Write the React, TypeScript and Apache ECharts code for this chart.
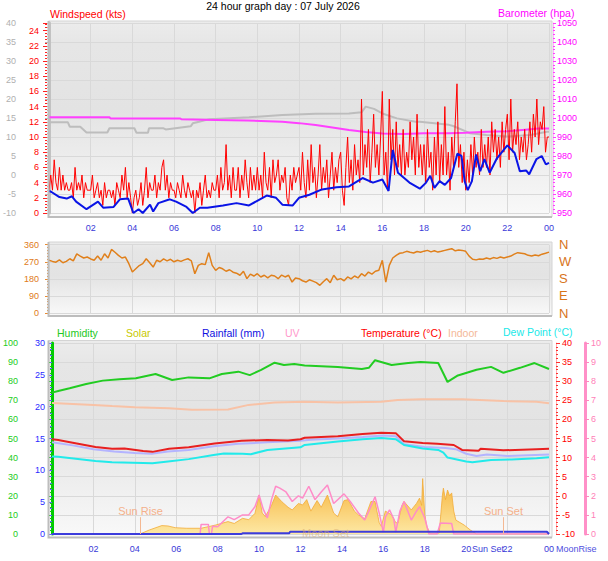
import React, { useEffect, useRef } from "react";
import * as echarts from "echarts";

const TITLE = "24 hour graph day : 07 July 2026";
const FONT = '"Liberation Sans", Arial, sans-serif';

// ---- top panel ----
const windStepHours = 1 / 12;
const windSpeedKts = [
  3, 5, 3, 7, 4, 3, 6, 3, 5, 3, 4, 3,
  3, 4, 2, 6, 3, 4, 3, 5, 2, 4, 3, 3,
  3, 5, 2, 3, 4, 2, 3, 1, 4, 2, 3, 3,
  2, 3, 1, 4, 3, 2, 5, 3, 6, 2, 4, 2,
  0, 2, 3, 1, 2, 4, 1, 3, 6, 2, 4, 3,
  3, 5, 2, 4, 3, 6, 7, 3, 5, 2, 4, 3,
  3, 2, 4, 3, 2, 5, 3, 2, 4, 3, 2, 3,
  0, 3, 2, 4, 1, 3, 5, 2, 3, 2, 4, 3,
  3, 5, 2, 6, 3, 4, 9, 3, 5, 2, 6, 3,
  3, 6, 2, 5, 3, 7, 4, 2, 6, 3, 5, 3,
  6, 3, 5, 2, 8, 4, 3, 6, 2, 7, 4, 5,
  7, 3, 5, 4, 6, 2, 1, 5, 3, 6, 4, 5,
  6, 3, 8, 4, 2, 7, 3, 9, 4, 6, 2, 5,
  9, 3, 6, 4, 7, 2, 5, 8, 3, 6, 4, 7,
  8, 3, 1, 6, 10, 4, 7, 3, 9, 5, 7, 4,
  15, 5, 9, 6, 11, 4, 8, 13, 6, 9, 5, 10,
  16, 5, 8, 3, 15, 7, 11, 5, 12, 6, 9, 5,
  11, 5, 8, 6, 12, 7, 10, 5, 13, 6, 9, 5,
  9, 4, 11, 6, 8, 3, 10, 5, 12, 4, 9, 5,
  14, 5, 8, 3, 10, 6, 12, 17, 6, 9, 4, 8,
  3, 7, 4, 9, 5, 10, 6, 8, 5, 11, 6, 9,
  6, 10, 5, 12, 8, 11, 7, 10, 6, 12, 8, 11,
  13, 7, 15, 8, 11, 9, 12, 7, 10, 8, 11, 7,
  9, 12, 8, 13, 10, 15, 9, 12, 11, 14, 8, 10,
  10,
];

const windAvgKts: [number, number][] = [
  [0, 2.9], [0.1, 2.8], [0.5, 2.1], [0.85, 1.9], [1.1, 2.2], [1.3, 1.5], [1.8, 0.5], [2.35, 1.5],
  [2.6, 0.7], [3.1, 0.8], [3.4, 1.8], [3.8, 1.9], [4.05, 0], [4.3, 0.5], [4.5, 0], [4.85, 1.1],
  [5.0, 0.2], [5.25, 1.3], [5.8, 1.8], [6.1, 1.5], [6.6, 0.8], [6.9, 0], [7.24, 0.7], [7.6, 0.7],
  [8.35, 1.0], [9.0, 1.3], [9.6, 1.0], [10.45, 2.3], [10.9, 2.0], [11.2, 1.1], [11.7, 1.0],
  [12.0, 2.0], [12.5, 2.4], [13.1, 3.1], [13.8, 3.4], [14.4, 3.5], [15.05, 4.6], [15.55, 4.0],
  [16.0, 4.4], [16.3, 2.9], [16.5, 8.3], [16.75, 5.3], [17.3, 4.0], [17.8, 3.2], [18.1, 4.0],
  [18.3, 4.9], [18.5, 3.3], [18.75, 4.2], [19.0, 3.7], [19.3, 4.6], [19.6, 7.8], [19.8, 7.5],
  [19.95, 4.2], [20.1, 3.0], [20.3, 4.2], [20.5, 7.7], [20.7, 5.5], [20.9, 7.1], [21.15, 5.3],
  [21.5, 7.2], [22.0, 8.9], [22.35, 7.9], [22.6, 5.5], [22.9, 5.6], [23.05, 5.1], [23.4, 7.1],
  [23.65, 7.5], [23.85, 6.4], [24, 6.6],
];

const barometerHpa: [number, number][] = [
  [0, 1000.4], [2.9, 1000.4], [2.95, 999.8], [6.3, 999.8], [6.35, 999.3], [8, 999], [9.5, 998.7],
  [11.2, 998], [12, 997.3], [12.8, 996.3], [13.6, 995], [14.4, 993.7], [15.2, 992.6], [16, 991.8],
  [17, 991.6], [18, 992], [19.2, 992], [20, 992.3], [21, 992.8], [22, 993], [23, 994], [23.5, 994.5],
  [24, 994.5],
];

const greyTrace: [number, number][] = [
  [0, 13.9], [0.9, 13.9], [1.0, 12.7], [1.5, 12.7], [1.8, 11.2], [2.8, 11.2], [2.9, 12.3], [4.1, 12.3],
  [4.2, 11.1], [4.75, 11.1], [4.8, 12.3], [5.5, 12.3], [5.6, 12.0], [6.8, 12.8], [6.9, 13.6], [7.2, 14.0],
  [7.7, 14.7], [9.6, 15.2], [11.2, 15.8], [12.8, 16.1], [14.4, 16.2], [15.0, 16.5], [15.2, 18.0],
  [15.6, 17.4], [16.0, 16.2], [16.7, 14.9], [17.6, 14.0], [17.8, 14.0], [19.2, 13.2], [19.4, 12.9],
  [20.2, 11.0], [21, 10.5], [22, 10.1], [23.1, 10.5], [23.9, 11.4], [24, 11.4],
];

// ---- middle panel ----
const dirStepHours = 1 / 6;
const windDirDeg = [
  278, 272, 268, 280, 265, 272,
  286, 275, 312, 300, 290, 295,
  285, 278, 300, 278, 312, 290,
  335, 320, 304, 290, 295, 260,
  216, 233, 250, 260, 286, 265,
  242, 278, 270, 285, 275, 283,
  270, 278, 272, 280, 286, 275,
  207, 251, 260, 255, 318, 251,
  225, 240, 233, 220, 228, 215,
  210, 199, 220, 181, 205, 195,
  207, 190, 199, 185, 199, 195,
  181, 200, 190, 199, 163, 185,
  181, 170, 163, 175, 168, 160,
  146, 165, 181, 160, 199, 175,
  181, 170, 190, 180, 195, 185,
  207, 195, 216, 205, 220, 225,
  278, 163, 251, 290, 304, 315,
  318, 325, 320, 316, 324, 320,
  326, 330, 322, 328, 321, 325,
  330, 335, 339, 328, 332, 330,
  325, 300, 283, 280, 285, 283,
  290, 285, 292, 288, 295, 290,
  295, 300, 310, 318, 315, 312,
  304, 300, 306, 302, 310, 315,
  321,
];
const compassLabels: Record<number, string> = { 0: "N", 90: "E", 180: "S", 270: "W", 360: "N" };

// ---- bottom panel ----
const humidityPct: [number, number][] = [
  [0, 74], [0.3, 74.9], [0.85, 76.3], [1.65, 78.5], [2.45, 80.3], [3.25, 81], [4.05, 81.5], [5, 83.8],
  [5.8, 80.6], [6.6, 82], [7.6, 81.5], [8.2, 83.8], [9, 85], [9.55, 83.2], [10.1, 85.9], [10.75, 89.7],
  [11.2, 88.5], [11.7, 89], [12.2, 88.2], [13.8, 87.4], [14.96, 86.4], [15.3, 87], [15.6, 91],
  [16.4, 88.5], [17.2, 89.5], [17.8, 90], [18.65, 89.5], [18.9, 84], [19.1, 79.6], [19.6, 83],
  [20.5, 86], [21.2, 87.5], [21.8, 84.4], [22.6, 87], [23.3, 89.5], [24, 86.4],
];

const temperatureC: [number, number][] = [
  [0, 14.8], [0.3, 14.6], [1, 13.9], [2.1, 12.8], [2.9, 12.3], [3.5, 12.4], [4.4, 11.7], [4.85, 11.5],
  [5.65, 12.3], [6.6, 12.7], [7.85, 13.7], [9.15, 14.4], [10.4, 14.6], [11.4, 14.5], [12, 14.8],
  [12.2, 15.2], [13.8, 15.6], [15, 16.2], [15.9, 16.5], [16.6, 16.4], [17, 14.3], [17.9, 13.8],
  [18.6, 13.6], [19.4, 13.3], [19.8, 12.0], [20.6, 11.8], [20.7, 12.3], [21.8, 11.9], [23.4, 12.2],
  [24, 12.3],
];

const feelsLikeC: [number, number][] = [
  [0, 14.0], [1, 13.2], [2, 12.2], [3, 11.6], [4, 11.2], [4.8, 11.0], [5.6, 11.6], [6.6, 12.0],
  [7.8, 13.0], [9, 13.6], [10.4, 14.0], [12, 14.4], [12.5, 14.7], [13.8, 15.0], [15, 15.4], [16, 15.8],
  [16.6, 15.6], [17, 13.5], [18, 12.8], [19, 12.5], [19.5, 12.2], [20, 11.0], [20.5, 10.4], [21, 10.8],
  [22, 10.4], [23, 10.6], [24, 10.8],
];

const dewPointC: [number, number][] = [
  [0, 10.3], [0.3, 10.2], [2.1, 9.1], [2.9, 8.8], [4.4, 8.6], [4.85, 8.5], [5.6, 9.0], [6.6, 9.6],
  [7.8, 10.7], [8.3, 11.1], [9.2, 11.0], [9.6, 10.9], [10.4, 12.0], [12, 12.7], [12.2, 13.3],
  [13.8, 14.2], [15, 14.8], [15.9, 15.1], [16.6, 14.8], [17, 13.3], [17.9, 12.4], [18.65, 12.0],
  [18.9, 11.3], [19.1, 10.0], [20.0, 9.0], [20.3, 8.8], [21.2, 9.4], [22.2, 9.5], [23.4, 9.8], [24, 10.1],
];

const indoorC: [number, number][] = [
  [0, 24.3], [2, 23.8], [2.9, 23.5], [4, 23.2], [5.65, 22.9], [6.75, 22.5], [8.5, 22.6], [9.5, 23.8],
  [10.75, 24.4], [12.2, 24.6], [13.8, 24.4], [15.9, 24.6], [16.7, 25.1], [17.85, 25.3], [19.8, 25.3],
  [21.8, 24.8], [23.4, 24.6], [24, 24.2],
];

const solarWm2: [number, number][] = [
  [0, 0], [4.25, 0], [4.7, 21], [5.3, 44], [5.6, 42], [5.95, 33], [6.5, 30], [7.2, 30], [7.9, 47],
  [8.5, 65], [8.8, 55], [9.2, 82], [9.5, 75], [9.8, 108], [10, 204], [10.15, 110], [10.3, 91],
  [10.6, 150], [10.8, 204], [11.1, 169], [11.4, 140], [11.6, 126], [11.9, 160], [12.1, 152],
  [12.3, 180], [12.5, 120], [12.8, 175], [13, 140], [13.3, 204], [13.6, 110], [13.8, 90], [14.1, 175],
  [14.3, 180], [14.6, 120], [14.8, 100], [15.1, 80], [15.4, 170], [15.6, 170], [15.8, 60], [15.9, 40],
  [16.1, 120], [16.4, 100], [16.6, 60], [16.7, 57], [16.9, 150], [17, 170], [17.35, 126], [17.6, 160],
  [17.75, 188], [17.85, 150], [17.9, 290], [18.0, 100], [18.1, 40], [18.25, 5], [18.7, 5], [18.85, 200],
  [18.9, 240], [19.0, 180], [19.1, 230], [19.2, 200], [19.3, 215], [19.4, 120], [19.5, 73], [19.7, 60],
  [19.9, 47], [20.2, 21], [20.5, 0], [24, 0],
];

const uvIndex: [number, number][] = [
  [0, 0], [7.15, 0], [7.2, 0.5], [7.55, 0.5], [7.6, 0], [7.7, 0], [7.75, 0.4], [8.0, 0.38], [8.5, 0.9],
  [8.8, 0.75], [9.2, 1.0], [9.5, 1.0], [9.8, 1.43], [10, 2.04], [10.2, 1.3], [10.4, 0.84], [10.6, 1.8],
  [10.8, 2.5], [11.0, 2.4], [11.3, 2.2], [11.6, 1.7], [11.9, 2.0], [12.1, 1.88], [12.4, 2.5],
  [12.7, 1.8], [13.0, 2.2], [13.3, 2.56], [13.6, 1.6], [14.1, 2.1], [14.4, 1.7], [14.8, 1.1],
  [15.1, 0.73], [15.3, 1.2], [15.6, 1.95], [15.8, 1.1], [16, 0.1], [16.1, 0.9], [16.3, 1.26],
  [16.5, 0.8], [16.6, 0.1], [16.8, 1.2], [17, 1.7], [17.35, 0.73], [17.6, 1.2], [17.75, 1.43],
  [18, 0.84], [18.2, 0], [18.6, 0], [18.75, 0.57], [19.3, 0.55], [19.4, 0], [24, 0],
];

const rainfallMm: [number, number][] = [
  [0, 0], [9.15, 0], [9.2, 0.1], [11.45, 0.1], [11.5, 0.35], [23.9, 0.35], [24, 0],
];

const SUN_RISE_H = 4.27;
const SUN_SET_H = 21.8;
const SUN_MARK_HEIGHT = 88;

const hourLabel = (v: number) => (v <= 0 ? "" : String(Math.round(v) % 24).padStart(2, "0"));

const lineSeries = (name: string, data: any, color: string, width: number, xi: number, yi: number, extra: any = {}) => ({
  name,
  type: "line",
  data,
  xAxisIndex: xi,
  yAxisIndex: yi,
  showSymbol: false,
  symbol: "none",
  silent: true,
  lineStyle: { color, width },
  ...extra,
});

const panelBg = (x: number, y: number, w: number, h: number) => [
  {
    type: "rect",
    z: -10,
    silent: true,
    shape: { x, y, width: w, height: h },
    style: {
      fill: new echarts.graphic.LinearGradient(0, 0, 0, 1, [
        { offset: 0, color: "#ececec" },
        { offset: 0.12, color: "#e6e6e6" },
        { offset: 0.45, color: "#e3e3e3" },
        { offset: 0.75, color: "#efefef" },
        { offset: 1, color: "#f9f9f9" },
      ]),
      stroke: "#d4d4d4",
      lineWidth: 1,
    },
  },
  {
    type: "polyline",
    z: 50,
    silent: true,
    shape: { points: [[x, y], [x, y + h], [x + w, y + h]] },
    style: { stroke: "#bdbdbd", lineWidth: 2, fill: null },
  },
];

const txt = (text: string, x: number, y: number, fill: string, size: number, align = "left", extra: any = {}) => ({
  type: "text",
  z: 60,
  silent: true,
  style: {
    text,
    x,
    y,
    fill,
    font: `${size}px ${FONT}`,
    textAlign: align,
    textVerticalAlign: "middle",
    ...extra,
  },
});

const axisBase = (color: string) => ({
  type: "value",
  axisLabel: { color, fontSize: 9, fontFamily: FONT },
  splitLine: { show: false },
  axisLine: { show: false },
  axisTick: { show: true, length: 4, lineStyle: { color } },
  minorTick: { show: true, splitNumber: 5, length: 2, lineStyle: { color } },
});

export default function App() {
  const ref = useRef<HTMLDivElement>(null);
  useEffect(() => {
    if (!ref.current) return;
    const chart = echarts.init(ref.current, null, { renderer: "svg" });

    const xBase = (gridIndex: number, showLabels: boolean) => ({
      type: "value",
      gridIndex,
      min: 0,
      max: 24,
      interval: 2,
      axisLine: { show: false },
      axisTick: { show: false },
      axisLabel: {
        show: showLabels,
        color: "#3a3ad8",
        fontSize: 9,
        fontFamily: FONT,
        margin: 10,
        formatter: hourLabel,
      },
      splitLine: { show: true, lineStyle: { color: "#d9d9d9", width: 1 } },
    });

    const windData = windSpeedKts.map((v, i) => [i * windStepHours, v]);
    const dirData = windDirDeg.map((v, i) => [i * dirStepHours, v]);

    const option: any = {
      animation: false,
      backgroundColor: "#ffffff",
      textStyle: { fontFamily: FONT },
      grid: [
        { left: 49, top: 23, width: 500, height: 190 },
        { left: 49, top: 244.7, width: 500, height: 68.3 },
        { left: 49, top: 343, width: 500, height: 191 },
      ],
      xAxis: [xBase(0, true), xBase(1, false), xBase(2, true)],
      yAxis: [
        {
          ...axisBase("#b4b4b4"),
          gridIndex: 0,
          position: "left",
          offset: 25,
          min: -10,
          max: 40,
          interval: 5,
          axisLabel: { color: "#b0b0b0", fontSize: 9, fontFamily: FONT, margin: 8 },
          axisLine: { show: true, lineStyle: { color: "#c2c2c2", width: 3 } },
        },
        {
          ...axisBase("#ff2020"),
          gridIndex: 0,
          position: "left",
          offset: 2,
          min: 0,
          max: 25,
          interval: 2,
          axisLabel: {
            color: "#ff0000",
            fontSize: 9,
            fontFamily: FONT,
            margin: 8,
            formatter: (v: number) => (v % 2 === 0 && v <= 24 ? String(v) : ""),
          },
        },
        {
          ...axisBase("#ff40ff"),
          gridIndex: 0,
          position: "right",
          offset: 4,
          min: 950,
          max: 1050,
          interval: 10,
          axisLabel: {
            color: "#ff00ff",
            fontSize: 9,
            fontFamily: FONT,
            margin: 4,
            formatter: (v: number) => String(v),
          },
          axisTick: { show: true, length: 3, lineStyle: { color: "#ff40ff" } },
          axisLine: { show: true, lineStyle: { color: "#ffb0ff", width: 1 } },
          splitLine: { show: true, lineStyle: { color: "#d9d9d9", width: 1 } },
        },
        {
          ...axisBase("#e88a30"),
          gridIndex: 1,
          position: "left",
          offset: 1,
          min: 0,
          max: 360,
          interval: 90,
          minorTick: { show: true, splitNumber: 6, length: 2, lineStyle: { color: "#e88a30" } },
          axisLabel: { color: "#e07a20", fontSize: 9, fontFamily: FONT, margin: 9 },
          splitLine: { show: true, lineStyle: { color: "#d9d9d9", width: 1 } },
        },
        {
          type: "value",
          gridIndex: 1,
          position: "right",
          offset: 3,
          min: 0,
          max: 360,
          interval: 90,
          axisLine: { show: false },
          axisTick: { show: false },
          splitLine: { show: false },
          axisLabel: {
            color: "#d8741a",
            fontSize: 13,
            fontFamily: FONT,
            margin: 7,
            formatter: (v: number) => compassLabels[v] ?? "",
          },
        },
        {
          ...axisBase("#10c810"),
          gridIndex: 2,
          position: "left",
          offset: 25,
          min: 0,
          max: 100,
          interval: 10,
          axisLabel: { color: "#22cc22", fontSize: 9, fontFamily: FONT, margin: 9 },
          axisLine: { show: true, lineStyle: { color: "#00cc00", width: 3 } },
        },
        {
          ...axisBase("#6060ff"),
          gridIndex: 2,
          position: "left",
          offset: 0,
          min: 0,
          max: 30,
          interval: 5,
          axisLabel: { color: "#2a2aff", fontSize: 9, fontFamily: FONT, margin: 7 },
        },
        {
          ...axisBase("#ff3030"),
          gridIndex: 2,
          position: "right",
          offset: 7,
          min: -10,
          max: 40,
          interval: 5,
          axisLabel: { color: "#ff0000", fontSize: 9, fontFamily: FONT, margin: 6 },
          axisLine: { show: true, lineStyle: { color: "#ffb0b0", width: 1 } },
          splitLine: { show: true, lineStyle: { color: "#d9d9d9", width: 1 } },
        },
        {
          ...axisBase("#ff88c0"),
          gridIndex: 2,
          position: "right",
          offset: 36,
          min: 0,
          max: 10,
          interval: 1,
          minorTick: { show: false },
          axisLabel: { color: "#ff80b8", fontSize: 9, fontFamily: FONT, margin: 6 },
          axisLine: { show: true, lineStyle: { color: "#ff90c8", width: 3 } },
        },
        {
          type: "value",
          gridIndex: 2,
          min: 0,
          max: 1000,
          show: false,
          splitLine: { show: false },
        },
      ],
      series: [
        lineSeries("Apparent", greyTrace, "#bdbdbd", 2, 0, 0),
        lineSeries("Barometer (hpa)", barometerHpa, "#ff40ff", 2, 0, 2),
        lineSeries("Windspeed (kts)", windData, "#ff0000", 1, 0, 1),
        lineSeries("Wind average", windAvgKts, "#0a14e6", 2, 0, 1),
        lineSeries("Wind direction", dirData, "#e0801c", 1.5, 1, 3),
        lineSeries("Solar", solarWm2, "#f3ac38", 0.8, 2, 9, {
          areaStyle: {
            opacity: 1,
            color: new echarts.graphic.LinearGradient(0, 0, 0, 1, [
              { offset: 0, color: "#f6b238" },
              { offset: 1, color: "#fde8a4" },
            ]),
          },
          markLine: {
            silent: true,
            symbol: "none",
            lineStyle: { color: "#f4b892", width: 1, type: "solid" },
            label: { show: true, position: "end", color: "#f4b08a", fontSize: 11, fontFamily: FONT, distance: 1 },
            data: [
              [
                { coord: [SUN_RISE_H, 0], name: "Sun Rise", label: { formatter: "Sun Rise" } },
                { coord: [SUN_RISE_H, SUN_MARK_HEIGHT] },
              ],
              [
                { coord: [SUN_SET_H, 0], name: "Sun Set", label: { formatter: "Sun Set" } },
                { coord: [SUN_SET_H, SUN_MARK_HEIGHT] },
              ],
            ],
          },
        }),
        lineSeries("UV", uvIndex, "#ff8cc8", 1.5, 2, 8),
        lineSeries("Rainfall (mm)", rainfallMm, "#3c3cdc", 2, 2, 6),
        lineSeries("Humidity", humidityPct, "#22cc22", 2, 2, 5),
        lineSeries("Indoor", indoorC, "#f8c2a6", 2, 2, 7),
        lineSeries("Feels like", feelsLikeC, "#b4b4ff", 2, 2, 7),
        lineSeries("Dew Point (°C)", dewPointC, "#22eaea", 2, 2, 7),
        lineSeries("Temperature (°C)", temperatureC, "#e82020", 2, 2, 7),
      ],
      graphic: [
        ...panelBg(48.5, 21, 503.5, 196),
        ...panelBg(48.5, 242, 503.5, 74),
        ...panelBg(48.5, 340.5, 503.5, 197),
        txt(TITLE, 283, 6, "#000000", 10.5, "center"),
        txt("Windspeed (kts)", 50, 13.5, "#ff0000", 10.5),
        txt("Barometer (hpa)", 498, 13, "#ff00ff", 10.5),
        txt("Humidity", 57, 332.5, "#22c822", 10.5),
        txt("Solar", 126, 332.5, "#c8c800", 10.5),
        txt("Rainfall (mm)", 202, 332.5, "#1010e0", 10.5),
        txt("UV", 285, 332.5, "#ff99cc", 10.5),
        txt("Temperature (°C)", 361, 332.5, "#ff0000", 10.5),
        txt("Indoor", 448, 332.5, "#f4b898", 10.5),
        txt("Dew Point (°C)", 503, 332, "#20e8e8", 10.5),
        txt("Moon Set", 302, 533, "rgba(214,170,110,0.55)", 11),
        txt("Sun Set", 472, 549, "#3a3ad8", 9),
        txt("MoonRise", 556, 549, "#5050e0", 9),
      ],
    };

    chart.setOption(option);
    return () => chart.dispose();
  }, []);

  return (
    <div
      ref={ref}
      style={{ position: "fixed", left: 0, top: 0, width: 608, height: 561, background: "#fff" }}
    />
  );
}
